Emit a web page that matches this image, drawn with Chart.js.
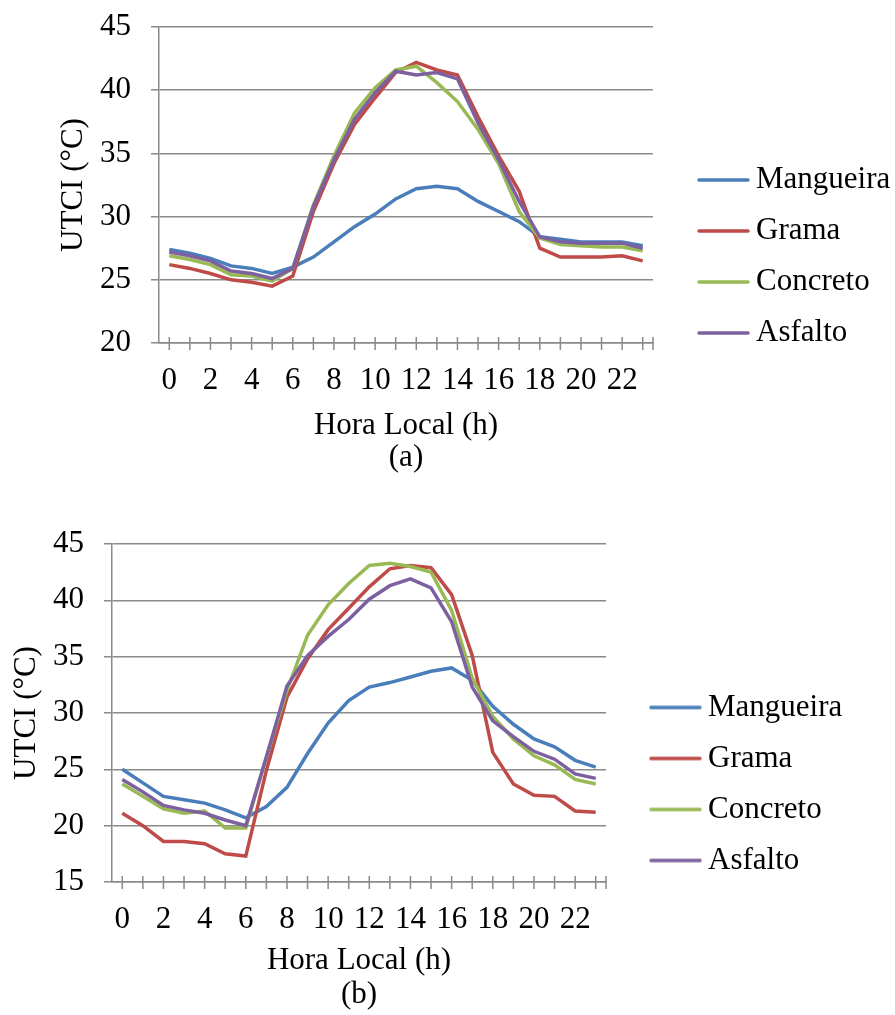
<!DOCTYPE html>
<html>
<head>
<meta charset="utf-8">
<script src="https://cdn.jsdelivr.net/npm/chart.js@4.4.0/dist/chart.umd.min.js"></script>
<style>
  html, body { margin: 0; padding: 0; background: #fff; }
  .panel { position: absolute; left: 0; }
  #panelA { top: 0; }
  #panelB { top: 490px; }
  canvas { display: block; }
</style>
</head>
<body>
<div class="panel" id="panelA"><canvas id="chartA" width="895" height="490"></canvas></div>
<div class="panel" id="panelB"><canvas id="chartB" width="895" height="525"></canvas></div>
<script>
// hours of the day (category axis)
const hours = [0, 1, 2, 3, 4, 5, 6, 7, 8, 9, 10, 11, 12, 13, 14, 15, 16, 17, 18, 19, 20, 21, 22, 23];
const seriesNames = ["Mangueira", "Grama", "Concreto", "Asfalto"];

// UTCI (°C) - panel (a)
const mangueiraA = [27.4, 27.1, 26.7, 26.1, 25.9, 25.5, 26.0, 26.8, 28.0, 29.2, 30.2, 31.4, 32.2, 32.4, 32.2, 31.2, 30.4, 29.6, 28.4, 28.2, 28.0, 28.0, 28.0, 27.7];
const gramaA     = [26.2, 25.9, 25.5, 25.0, 24.8, 24.5, 25.3, 30.4, 34.2, 37.3, 39.4, 41.4, 42.2, 41.6, 41.2, 37.9, 34.8, 32.0, 27.5, 26.8, 26.8, 26.8, 26.9, 26.5];
const concretoA  = [26.9, 26.6, 26.2, 25.4, 25.3, 24.9, 25.9, 30.9, 34.8, 38.2, 40.2, 41.6, 41.9, 40.6, 39.1, 36.9, 34.2, 30.4, 28.3, 27.8, 27.7, 27.6, 27.6, 27.3];
const asfaltoA   = [27.2, 26.9, 26.5, 25.7, 25.5, 25.1, 25.9, 30.8, 34.5, 37.7, 39.8, 41.5, 41.2, 41.4, 40.9, 37.4, 34.5, 31.2, 28.4, 28.0, 27.9, 27.9, 27.9, 27.5];

// UTCI (°C) - panel (b)
const mangueiraB = [25.0, 23.8, 22.6, 22.3, 22.0, 21.4, 20.7, 21.7, 23.4, 26.4, 29.1, 31.1, 32.3, 32.7, 33.2, 33.7, 34.0, 32.9, 30.6, 29.0, 27.7, 27.0, 25.8, 25.2];
const gramaB     = [21.1, 20.0, 18.6, 18.6, 18.4, 17.5, 17.3, 24.9, 31.4, 34.8, 37.4, 39.3, 41.2, 42.8, 43.1, 42.9, 40.5, 35.1, 26.5, 23.7, 22.7, 22.6, 21.3, 21.2];
const concretoB  = [23.7, 22.6, 21.5, 21.1, 21.3, 19.8, 19.8, 26.1, 32.0, 36.9, 39.6, 41.5, 43.1, 43.3, 43.0, 42.5, 39.1, 33.1, 29.7, 27.7, 26.2, 25.4, 24.1, 23.7];
const asfaltoB   = [24.1, 23.0, 21.8, 21.4, 21.1, 20.5, 20.0, 26.1, 32.4, 35.1, 36.8, 38.3, 40.1, 41.3, 41.9, 41.1, 38.1, 32.3, 29.3, 27.9, 26.6, 25.9, 24.6, 24.2];

// y tick values for each panel
const yTicksA = [20, 25, 30, 35, 40, 45];
const yTicksB = [15, 20, 25, 30, 35, 40, 45];

const seriesColors = ["#4A7EBB", "#BE4B48", "#98B954", "#7D60A0"];
const GRID = "#8a8a8a";
const FONT = "'Liberation Serif', 'Times New Roman', serif";

Chart.defaults.font.family = FONT;
Chart.defaults.font.size = 31;
Chart.defaults.color = "#000";

// short coloured stroke used as the legend marker
function legendLine(color) {
	const c = document.createElement("canvas");
	c.width = 53;
	c.height = 6;
	const g = c.getContext("2d");
	g.strokeStyle = color;
	g.lineWidth = 3.5;
	g.lineCap = "round";
	g.beginPath();
	g.moveTo(2, 3);
	g.lineTo(51, 3);
	g.stroke();
	return c;
}

// tick marks crossing the category axis, one per hour plus the right end
const crossTicks = {
	id: "crossTicks",
	beforeDatasetsDraw(chart) {
		const { ctx, chartArea, scales } = chart;
		const xs = hours.map((h, i) => scales.x.getPixelForValue(i));
		xs.push(chartArea.right);
		ctx.save();
		ctx.strokeStyle = GRID;
		ctx.lineWidth = 1.5;
		ctx.beginPath();
		xs.forEach((px) => {
			ctx.moveTo(px, chartArea.bottom - 6);
			ctx.lineTo(px, chartArea.bottom + 7);
		});
		ctx.stroke();
		ctx.restore();
	},
};

function buildChart(id, opt) {
	// fixed legend column; widen its box to the canvas edge so labels are not clipped
	const placeLegend = {
		id: "placeLegend",
		afterLayout(chart) {
			const lg = chart.legend;
			lg.left = opt.legendLeft;
			lg.right = chart.width;
			lg.width = chart.width - opt.legendLeft;
		},
	};

	return new Chart(document.getElementById(id), {
		type: "line",
		data: {
			labels: hours,
			datasets: seriesNames.map((name, i) => ({
				label: name,
				data: opt.series[i],
				borderColor: seriesColors[i],
				backgroundColor: seriesColors[i],
				borderWidth: 3.5,
				pointRadius: 0,
				tension: 0,
				fill: false,
				order: seriesNames.length - i, // later series drawn on top
			})),
		},
		plugins: [crossTicks, placeLegend],
		options: {
			responsive: false,
			animation: false,
			devicePixelRatio: 1,
			layout: { padding: { top: opt.padTop, right: 0, bottom: 0, left: 0 } },
			plugins: {
				tooltip: { enabled: false },
				legend: {
					position: "right",
					align: "start",
					title: {
						display: true,
						text: "",
						font: { size: 10, lineHeight: 1 },
						padding: { top: opt.legendTop, bottom: 0 },
					},
					labels: {
						usePointStyle: true,
						pointStyleWidth: 34,
						padding: 20,
						color: "#000",
						font: { size: 31 },
						generateLabels(chart) {
							return chart.data.datasets.map((ds, i) => ({
								text: ds.label,
								datasetIndex: i,
								pointStyle: legendLine(ds.borderColor),
								fillStyle: ds.borderColor,
								strokeStyle: ds.borderColor,
								fontColor: "#000",
								lineWidth: 0,
								hidden: false,
							}));
						},
					},
				},
			},
			scales: {
				x: {
					type: "category",
					offset: true,
					grid: { display: false, tickLength: 7 },
					border: { display: true, color: GRID, width: 1.5 },
					ticks: {
						autoSkip: false,
						maxRotation: 0,
						padding: 12,
						color: "#000",
						callback: function (value, index) {
							return index % 2 ? "" : this.getLabelForValue(value);
						},
					},
					title: {
						display: true,
						text: ["Hora Local (h)", opt.caption],
						color: "#000",
						font: { size: 31, lineHeight: opt.titleLine },
						padding: { top: 0, bottom: opt.captionPad },
					},
					afterFit(scale) {
						scale.height = opt.xHeight;
					},
				},
				y: {
					min: opt.yTicks[0],
					max: opt.yTicks[opt.yTicks.length - 1],
					ticks: { stepSize: opt.yTicks[1] - opt.yTicks[0], padding: 20, color: "#000" },
					grid: { color: GRID, lineWidth: 1.5, tickLength: 8 },
					border: { display: true, color: GRID, width: 1.5 },
					title: {
						display: true,
						text: "UTCI (°C)",
						color: "#000",
						font: { size: 31, lineHeight: 1 },
						padding: { top: opt.yTitlePad, bottom: 0 },
					},
					afterFit(scale) {
						scale.width = opt.yWidth;
						// end labels may overhang the plot; the layout padding handles it
						scale.paddingTop = 0;
						scale.paddingBottom = 0;
					},
				},
				// empty spacer between the plot and the legend
				gap: {
					type: "linear",
					position: "right",
					display: true,
					grid: { display: false },
					ticks: { display: false },
					border: { display: false },
					afterFit(scale) {
						scale.width = scale.chart.width - scale.chart.legend.width - opt.plotRight;
					},
				},
			},
		},
	});
}

buildChart("chartA", {
	series: [mangueiraA, gramaA, concretoA, asfaltoA],
	yTicks: yTicksA,
	caption: "(a)",
	padTop: 27,
	plotRight: 653,
	legendLeft: 686.5,
	yWidth: 159,
	yTitlePad: 58,
	xHeight: 147,
	titleLine: "32px",
	captionPad: 16,
	legendTop: 107.5,
});

buildChart("chartB", {
	series: [mangueiraB, gramaB, concretoB, asfaltoB],
	yTicks: yTicksB,
	caption: "(b)",
	padTop: 54,
	plotRight: 606,
	legendLeft: 638.5,
	yWidth: 112,
	yTitlePad: 11,
	xHeight: 133,
	titleLine: "34px",
	captionPad: 3.5,
	legendTop: 118,
});
</script>
</body>
</html>
